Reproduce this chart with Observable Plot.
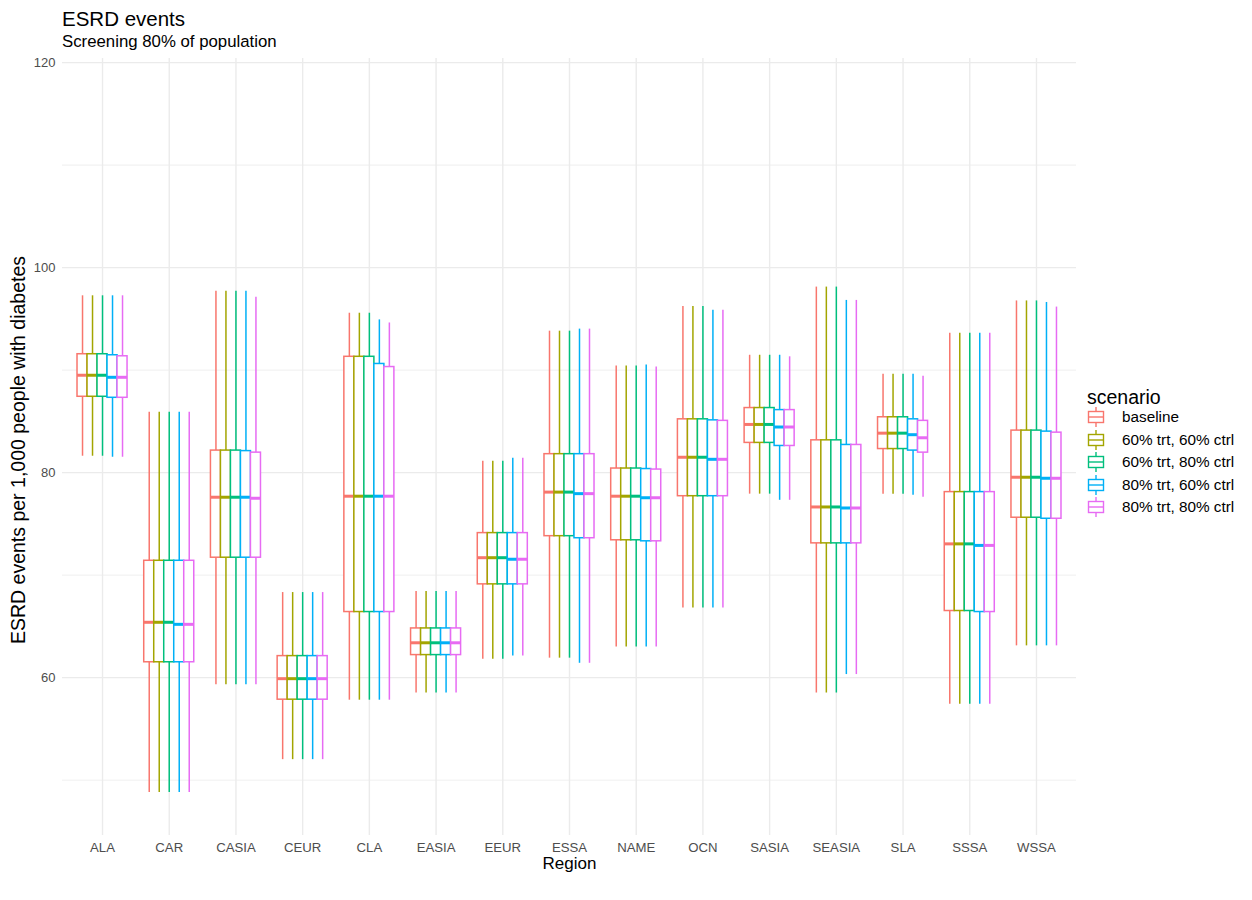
<!DOCTYPE html>
<html>
<head>
<meta charset="utf-8">
<script src="https://cdn.jsdelivr.net/npm/d3@7"></script>
<script src="https://cdn.jsdelivr.net/npm/@observablehq/plot@0.6"></script>
<style>
  html, body { margin: 0; padding: 0; background: #fff; }
  #wrap { position: relative; width: 1252px; height: 900px; font-family: "Liberation Sans", Arial, sans-serif; }
  #head { position: relative; height: 50px; }
  #title { position: absolute; left: 62px; top: 8.5px; font-size: 20.5px; line-height: 20px; color: #000; white-space: nowrap; }
  #subtitle { position: absolute; left: 62px; top: 33px; font-size: 16.8px; line-height: 17px; color: #000; white-space: nowrap; }
  #legend { position: absolute; left: 1087px; top: 0; width: 165px; height: 900px; color: #000; pointer-events: none; }
  #legend .ttl { position: absolute; left: 0; top: 386.5px; font-size: 19.5px; line-height: 20px; white-space: nowrap; }
  #legend .row { position: absolute; left: 0; display: flex; align-items: center; height: 22.6px; font-size: 15.3px; white-space: nowrap; }
  #legend .row svg { margin-right: 17px; flex: none; }
</style>
</head>
<body>
<div id="wrap">
  <div id="head">
    <div id="title">ESRD events</div>
    <div id="subtitle">Screening 80% of population</div>
  </div>
  <div id="chart"></div>
  <div id="legend"></div>
</div>
<script>
const regions = ["ALA","CAR","CASIA","CEUR","CLA","EASIA","EEUR","ESSA","NAME","OCN","SASIA","SEASIA","SLA","SSSA","WSSA"];
const scenarios = ["baseline","60% trt, 60% ctrl","60% trt, 80% ctrl","80% trt, 60% ctrl","80% trt, 80% ctrl"];
const colors = ["#F8766D","#A3A500","#00BF7D","#00B0F6","#E76BF3"];

// per region: values for the 5 scenarios
const whiskerLow = [
  [81.6,81.6,81.6,81.5,81.5],
  [48.8,48.8,48.8,48.8,48.8],
  [59.3,59.3,59.3,59.3,59.3],
  [52.0,52.0,52.0,52.0,52.0],
  [57.8,57.8,57.8,57.8,57.8],
  [58.5,58.5,58.5,58.5,58.5],
  [61.8,61.8,61.8,62.1,62.1],
  [61.9,61.9,61.9,61.4,61.4],
  [63.0,63.0,63.0,63.0,63.0],
  [66.8,66.8,66.8,66.8,66.8],
  [77.9,77.9,77.9,77.3,77.3],
  [58.5,58.5,58.5,60.3,60.3],
  [77.9,77.9,77.9,77.8,77.6],
  [57.4,57.4,57.4,57.4,57.4],
  [63.1,63.1,63.1,63.1,63.1]
];
const boxLow = [
  [87.4,87.4,87.4,87.3,87.3],
  [61.5,61.5,61.5,61.5,61.5],
  [71.7,71.7,71.7,71.7,71.7],
  [57.85,57.85,57.85,57.85,57.85],
  [66.4,66.4,66.4,66.4,66.4],
  [62.2,62.2,62.2,62.2,62.2],
  [69.1,69.1,69.1,69.1,69.1],
  [73.8,73.8,73.8,73.6,73.6],
  [73.4,73.4,73.4,73.3,73.3],
  [77.7,77.7,77.7,77.7,77.7],
  [82.9,82.9,82.9,82.6,82.6],
  [73.1,73.1,73.1,73.1,73.1],
  [82.3,82.3,82.3,82.15,81.95],
  [66.5,66.5,66.5,66.4,66.4],
  [75.6,75.6,75.6,75.5,75.5]
];
const median = [
  [89.5,89.5,89.5,89.3,89.3],
  [65.4,65.4,65.4,65.2,65.2],
  [77.6,77.6,77.6,77.6,77.5],
  [59.9,59.9,59.9,59.9,59.9],
  [77.7,77.7,77.7,77.7,77.7],
  [63.4,63.4,63.4,63.4,63.4],
  [71.7,71.7,71.7,71.55,71.55],
  [78.1,78.1,78.1,77.95,77.95],
  [77.7,77.7,77.7,77.55,77.55],
  [81.5,81.5,81.5,81.3,81.3],
  [84.7,84.7,84.7,84.45,84.45],
  [76.65,76.65,76.65,76.55,76.55],
  [83.85,83.85,83.85,83.7,83.4],
  [73.05,73.05,73.05,72.9,72.9],
  [79.55,79.55,79.55,79.45,79.45]
];
const boxHigh = [
  [91.55,91.55,91.55,91.45,91.35],
  [71.4,71.4,71.4,71.4,71.4],
  [82.15,82.15,82.15,82.1,81.95],
  [62.1,62.1,62.1,62.1,62.1],
  [91.3,91.3,91.3,90.6,90.3],
  [64.8,64.8,64.8,64.8,64.8],
  [74.1,74.1,74.1,74.1,74.1],
  [81.8,81.8,81.8,81.8,81.8],
  [80.4,80.4,80.4,80.35,80.3],
  [85.2,85.2,85.2,85.1,85.05],
  [86.3,86.3,86.3,86.1,86.1],
  [83.15,83.15,83.15,82.7,82.7],
  [85.4,85.4,85.4,85.2,85.05],
  [78.1,78.1,78.1,78.1,78.1],
  [84.1,84.1,84.1,84.0,83.9]
];
const whiskerHigh = [
  [97.25,97.25,97.25,97.25,97.25],
  [85.9,85.9,85.9,85.9,85.9],
  [97.7,97.7,97.7,97.7,97.1],
  [68.3,68.3,68.3,68.3,68.3],
  [95.55,95.55,95.55,94.9,94.6],
  [68.4,68.4,68.4,68.4,68.4],
  [81.1,81.1,81.1,81.4,81.4],
  [93.8,93.8,93.8,94.0,94.0],
  [90.4,90.4,90.4,90.5,90.3],
  [96.2,96.2,96.2,95.85,95.85],
  [91.45,91.45,91.45,91.45,91.3],
  [98.1,98.1,98.1,96.8,96.8],
  [89.6,89.6,89.6,89.6,89.4],
  [93.6,93.6,93.6,93.6,93.6],
  [96.75,96.75,96.75,96.6,96.15]
];
const yTicks = [60, 80, 100, 120];
const yMinorTicks = [50, 70, 90, 110];
const yLabel = "ESRD events per 1,000 people with diabetes";
const xLabel = "Region";
const legendTitle = "scenario";

const rows = [];
regions.forEach((r, ri) => scenarios.forEach((s, si) => rows.push({
  region: r, scenario: s, si,
  lo: whiskerLow[ri][si], q1: boxLow[ri][si], med: median[ri][si],
  q3: boxHigh[ri][si], hi: whiskerHigh[ri][si]
})));

const boxW = 10;
const lw = 1.5;
const scenarioMarks = scenarios.flatMap((s, i) => {
  const d = rows.filter(r => r.si === i);
  const off = (i - 2) * boxW;
  const ins = {insetLeft: i * boxW, insetRight: (scenarios.length - 1 - i) * boxW};
  return [
    Plot.ruleX(d, {x: "region", y1: "lo", y2: "q1", stroke: "scenario", dx: off, strokeWidth: lw}),
    Plot.ruleX(d, {x: "region", y1: "q3", y2: "hi", stroke: "scenario", dx: off, strokeWidth: lw}),
    Plot.barY(d, {x: "region", y1: "q1", y2: "q3", fill: "white", stroke: "scenario", strokeWidth: lw, ...ins}),
    Plot.tickY(d, {x: "region", y: "med", stroke: "scenario", strokeWidth: 3, ...ins})
  ];
});

const chart = Plot.plot({
  width: 1252,
  height: 850,
  marginLeft: 62,
  marginRight: 176,
  marginTop: 8,
  marginBottom: 65,
  style: {fontFamily: "'Liberation Sans', Arial, sans-serif", fontSize: "13px", background: "white"},
  x: {domain: regions, paddingInner: 0.25, paddingOuter: 0.225, round: false, label: null},
  y: {domain: [44.6, 120.4], label: null},
  color: {domain: scenarios, range: colors},
  marks: [
    Plot.gridY(yMinorTicks, {stroke: "#EBEBEB", strokeOpacity: 1, strokeWidth: 0.8}),
    Plot.gridY(yTicks, {stroke: "#EBEBEB", strokeOpacity: 1, strokeWidth: 1.4}),
    Plot.gridX({stroke: "#EBEBEB", strokeOpacity: 1, strokeWidth: 1.4}),
    Plot.axisX({tickSize: 0, tickPadding: 7.3, fill: "#4D4D4D", fontSize: 13.2, label: null}),
    Plot.axisY(yTicks, {tickSize: 0, tickPadding: 7, fill: "#4D4D4D", fontSize: 13, label: null}),
    ...scenarioMarks,
    Plot.text([yLabel], {text: d => d, frameAnchor: "left", dx: -44, dy: 3, rotate: -90, fontSize: 19.5, fill: "black", lineAnchor: "middle", textAnchor: "middle"}),
    Plot.text([xLabel], {text: d => d, frameAnchor: "bottom", dy: 28, fontSize: 17, fill: "black", lineAnchor: "middle", textAnchor: "middle"})
  ]
});
document.getElementById("chart").appendChild(chart);

// legend (boxplot keys)
const legend = document.getElementById("legend");
const t = document.createElement("div");
t.className = "ttl";
t.textContent = legendTitle;
legend.appendChild(t);
const colorScale = chart.scale("color");
scenarios.forEach((s, i) => {
  const c = colorScale.apply(s);
  const row = document.createElement("div");
  row.className = "row";
  row.style.top = (417 + 22.6 * i - 11.3) + "px";
  row.innerHTML = `<svg width="18" height="22" viewBox="0 0 18 22">
    <line x1="9" x2="9" y1="1" y2="21" stroke="${c}" stroke-width="1.4"/>
    <rect x="1.5" y="5.5" width="15" height="11" fill="white" stroke="${c}" stroke-width="1.4"/>
    <line x1="1.5" x2="16.5" y1="11" y2="11" stroke="${c}" stroke-width="1.4"/>
  </svg><span></span>`;
  row.querySelector("span").textContent = s;
  legend.appendChild(row);
});
</script>
</body>
</html>
